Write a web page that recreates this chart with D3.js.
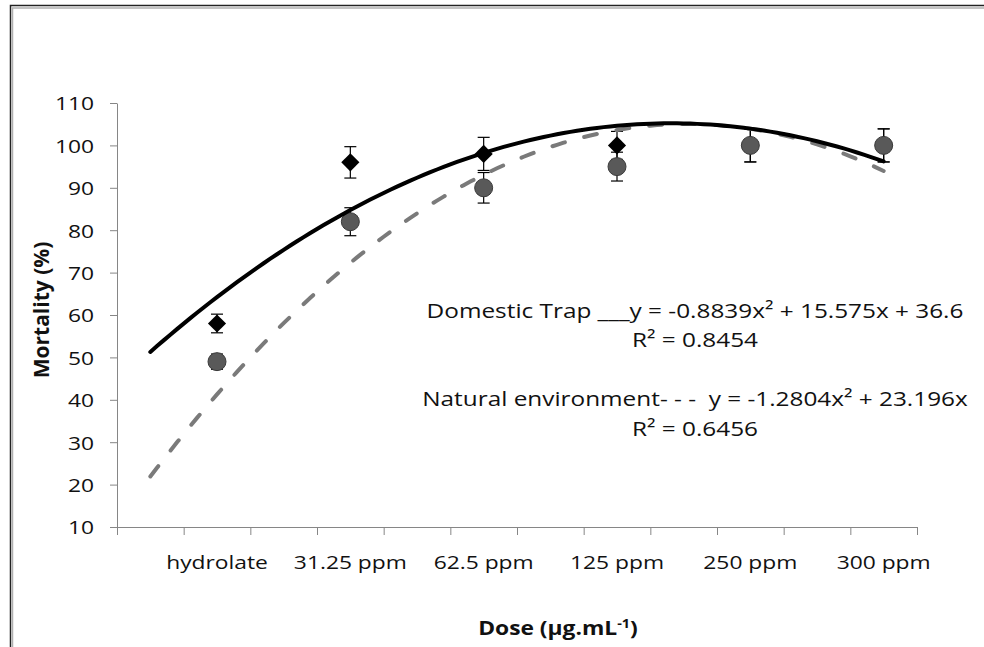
<!DOCTYPE html>
<html>
<head>
<meta charset="utf-8">
<script src="https://cdn.jsdelivr.net/npm/d3@7"></script>
<style>
  body { margin: 0; background: #fff; }
  svg { display: block; }
  text { font-family: "Open Sans", sans-serif; fill: #111; white-space: pre; }
</style>
</head>
<body>
<svg width="984" height="647"></svg>
<script>
// values
var categories = ["hydrolate", "31.25 ppm", "62.5 ppm", "125 ppm", "250 ppm", "300 ppm"];
var domestic = [58, 96, 98, 100, 100, 100];
var domesticErr = [2.2, 3.7, 3.9, 3.3, 3.9, 3.9];
var natural = [49, 82, 90, 95, 100, 100];
var naturalErr = [1.8, 3.3, 3.6, 3.4, 3.9, 3.9];
var yTicks = [10, 20, 30, 40, 50, 60, 70, 80, 90, 100, 110];
// trend equations as printed on the chart (a, b, c of ax2 + bx + c)
var domesticFit = [-0.8839, 15.575, 36.6];
var naturalFit = [-1.2804, 23.196, 0];
var labels = [
  "Domestic Trap ___y = -0.8839x\u00b2 + 15.575x + 36.6",
  "R\u00b2 = 0.8454",
  "Natural environment- - -  y = -1.2804x\u00b2 + 23.196x",
  "R\u00b2 = 0.6456"
];

var svg = d3.select("svg"),
    width = +svg.attr("width"),
    height = +svg.attr("height");

var SX = 1.2; // the original picture is a bit stretched sideways

// outer frame (runs off the right and bottom edges)
svg.append("rect").attr("x", 10.5).attr("y", 5.5).attr("width", 1000).attr("height", 700)
  .attr("fill", "none").attr("stroke", "#222").attr("stroke-width", 1.5);
svg.append("rect").attr("x", 12.5).attr("y", 8).attr("width", 1000).attr("height", 700)
  .attr("fill", "none").attr("stroke", "#b0b0b0").attr("stroke-width", 1.5);

// Excel-like category axis: 12 slots, data sits in the even ones
var x = d3.scaleLinear().domain([0.5, 12.5]).range([117, 917]);
var y = d3.scaleLinear().domain([10, 110]).range([527, 103]);
var pos = function(i) { return 2 * (i + 1); };

var axisColor = "#868686";

var xAxis = svg.append("g")
  .attr("transform", "translate(0," + y(10) + ")")
  .call(d3.axisBottom(x).tickValues(d3.range(0.5, 12.6, 1)).tickSize(8).tickSizeOuter(0).tickFormat(""));
xAxis.select(".domain").attr("stroke", axisColor);
xAxis.selectAll(".tick line").attr("stroke", axisColor);

var yAxis = svg.append("g")
  .attr("transform", "translate(" + x(0.5) + ",0)")
  .call(d3.axisLeft(y).tickValues(yTicks).tickSize(7).tickSizeOuter(0));
yAxis.select(".domain").attr("stroke", axisColor);
yAxis.selectAll(".tick line").attr("stroke", axisColor);
yAxis.selectAll(".tick text")
  .attr("x", -23 / SX)
  .attr("dy", "0.36em")
  .attr("font-size", 19)
  .attr("font-family", "Open Sans")
  .attr("fill", "#111")
  .attr("transform", "scale(" + SX + ",1)");

// category labels
svg.append("g").selectAll("text")
  .data(categories)
  .enter().append("text")
    .attr("text-anchor", "middle")
    .attr("font-size", 19)
    .attr("transform", function(d, i) { return "translate(" + x(pos(i)) + ",569)scale(" + SX + ",1)"; })
    .text(function(d) { return d; });

// axis titles
svg.append("text")
  .attr("text-anchor", "middle")
  .attr("font-weight", "bold")
  .attr("font-size", 21)
  .attr("transform", "translate(49,310)rotate(-90)")
  .text("Mortality (%)");

var xt = svg.append("text")
  .attr("text-anchor", "middle")
  .attr("font-weight", "bold")
  .attr("font-size", 19)
  .attr("transform", "translate(558,635)scale(" + SX + ",1)");
xt.append("tspan").text("Dose (\u00b5g.mL");
xt.append("tspan").attr("font-size", 12).attr("dy", -7).text("-1");
xt.append("tspan").attr("dy", 7).text(")");

// error bars
function errorBars(vals, errs) {
  var g = svg.append("g").attr("stroke", "#000").attr("stroke-width", 1.2);
  vals.forEach(function(v, i) {
    var cx = x(pos(i));
    g.append("line").attr("x1", cx).attr("x2", cx).attr("y1", y(v - errs[i])).attr("y2", y(v + errs[i]));
    [v - errs[i], v + errs[i]].forEach(function(e) {
      g.append("line").attr("x1", cx - 6).attr("x2", cx + 6).attr("y1", y(e)).attr("y2", y(e));
    });
  });
}

// domestic trap: diamonds
errorBars(domestic, domesticErr);
svg.append("g").selectAll("path")
  .data(domestic)
  .enter().append("path")
    .attr("d", d3.symbol(d3.symbolSquare, 165))
    .attr("transform", function(d, i) { return "translate(" + x(pos(i)) + "," + y(d) + ")rotate(45)"; })
    .attr("fill", "#000");

// natural environment: circles
errorBars(natural, naturalErr);
svg.append("g").selectAll("circle")
  .data(natural)
  .enter().append("circle")
    .attr("cx", function(d, i) { return x(pos(i)); })
    .attr("cy", function(d) { return y(d); })
    .attr("r", 9)
    .attr("fill", "#595959")
    .attr("stroke", "#3a3a3a")
    .attr("stroke-width", 1);

// polynomial trend lines over category index 1..12
function trend(c) {
  return d3.range(1, 12.001, 0.1).map(function(t) { return [t, c[0] * t * t + c[1] * t + c[2]]; });
}
var line = d3.line().x(function(d) { return x(d[0]); }).y(function(d) { return y(d[1]); });

svg.append("path")
  .datum(trend(naturalFit))
  .attr("d", line)
  .attr("fill", "none")
  .attr("stroke", "#7a7a7a")
  .attr("stroke-width", 4)
  .attr("stroke-linecap", "round")
  .attr("stroke-dasharray", "13,20");

svg.append("path")
  .datum(trend(domesticFit))
  .attr("d", line)
  .attr("fill", "none")
  .attr("stroke", "#000")
  .attr("stroke-width", 4)
  .attr("stroke-linecap", "round");

// equation text box
var baselines = [318, 347, 406, 436];
svg.append("g").selectAll("text")
  .data(labels)
  .enter().append("text")
    .attr("text-anchor", "middle")
    .attr("font-size", 20.3)
    .attr("transform", function(d, i) { return "translate(695," + baselines[i] + ")scale(" + SX + ",1)"; })
    .text(function(d) { return d; });
</script>
</body>
</html>
